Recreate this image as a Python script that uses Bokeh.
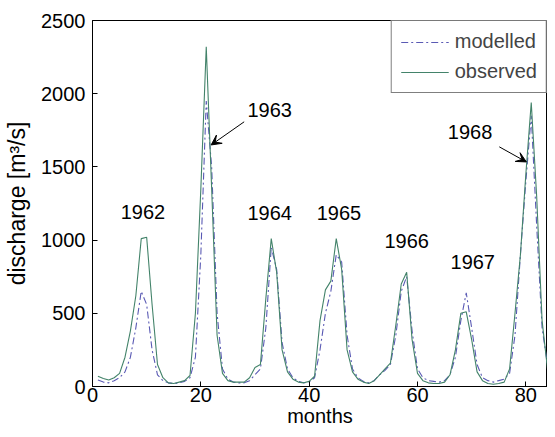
from bokeh.plotting import figure
from bokeh.models import Range1d, Arrow, VeeHead, Legend, LegendItem, FixedTicker
from bokeh.core.properties import value
from bokeh.embed import file_html
from bokeh.resources import INLINE

months = list(range(1, 85))
observed = [70, 55, 45, 60, 90, 200, 380, 620, 1010, 1020, 560, 150,
            60, 25, 20, 30, 40, 75, 500, 1350, 2320, 1350, 350, 90,
            40, 30, 30, 30, 60, 130, 150, 600, 1010, 780, 250, 100,
            50, 30, 25, 35, 70, 450, 660, 720, 1010, 800, 250, 100,
            50, 30, 20, 40, 80, 120, 160, 420, 700, 780, 320, 90,
            40, 25, 20, 20, 30, 80, 250, 500, 510, 320, 100, 40,
            20, 15, 20, 30, 120, 500, 900, 1450, 1940, 1300, 450, 120]
modelled = [45, 30, 25, 40, 60, 100, 200, 400, 650, 560, 250, 80,
            40, 25, 20, 25, 35, 60, 200, 900, 1950, 1500, 500, 120,
            50, 30, 25, 25, 40, 80, 120, 400, 950, 800, 300, 120,
            60, 35, 25, 30, 60, 250, 500, 650, 900, 850, 350, 120,
            60, 35, 25, 40, 80, 110, 150, 350, 650, 750, 380, 120,
            60, 40, 35, 30, 40, 80, 200, 450, 640, 400, 150, 60,
            40, 30, 40, 50, 90, 350, 900, 1400, 1850, 1100, 400, 150]

year_labels = ["1962", "1963", "1964", "1965", "1966", "1967", "1968"]
year_x = [9.3, 32.7, 32.7, 45.5, 58.0, 70.2, 69.7]
year_y = [1190, 1890, 1185, 1185, 993, 850, 1740]

x_ticks = [0, 20, 40, 60, 80]
y_ticks = [0, 500, 1000, 1500, 2000, 2500]

FONT = "Liberation Sans"

p = figure(width=547, height=429, output_backend="svg", toolbar_location=None,
           x_range=Range1d(0, 84), y_range=Range1d(0, 2500),
           min_border_left=92, min_border_right=0, min_border_top=20, min_border_bottom=40)
p.xgrid.visible = False
p.ygrid.visible = False
p.outline_line_color = "black"
p.outline_line_width = 1
p.background_fill_color = "white"
p.border_fill_color = "white"

for ax in [p.xaxis[0], p.yaxis[0]]:
    ax.major_tick_in = 5
    ax.major_tick_out = 0
    ax.minor_tick_in = 0
    ax.minor_tick_out = 0
    ax.axis_line_color = "black"
    ax.major_tick_line_color = "black"
    ax.major_label_text_font = FONT
    ax.major_label_text_font_size = "20px"
    ax.major_label_text_color = "black"
    ax.axis_label_text_font = FONT
    ax.axis_label_text_font_style = "normal"
    ax.axis_label_text_color = "black"

p.xaxis[0].ticker = FixedTicker(ticks=x_ticks)
p.yaxis[0].ticker = FixedTicker(ticks=y_ticks)
p.xaxis[0].axis_label = "months"
p.yaxis[0].axis_label = "discharge [m³/s]"
p.xaxis[0].axis_label_text_font_size = "20px"
p.yaxis[0].axis_label_text_font_size = "23px"
p.xaxis[0].major_label_standoff = 1
p.yaxis[0].major_label_standoff = 7
p.xaxis[0].axis_label_standoff = 0
p.yaxis[0].axis_label_standoff = 8

l_mod = p.line(months, modelled, line_color="#5a5ab4", line_width=1.1, line_dash="7 3 2 3")
l_obs = p.line(months, observed, line_color="#43836a", line_width=1.1)

p.text(x=year_x, y=year_y, text=year_labels, text_font=value(FONT), text_font_size="20px",
       text_align="center", text_baseline="middle", text_color="black")

p.add_layout(Arrow(end=VeeHead(size=10, fill_color="black", line_color="black"),
                   x_start=28.0, y_start=1808, x_end=21.9, y_end=1650,
                   line_color="black", line_width=1))
p.add_layout(Arrow(end=VeeHead(size=10, fill_color="black", line_color="black"),
                   x_start=75.1, y_start=1637, x_end=80.1, y_end=1534,
                   line_color="black", line_width=1))

legend = Legend(items=[LegendItem(label="modelled", renderers=[l_mod]),
                       LegendItem(label="observed", renderers=[l_obs])],
                location="top_right")
legend.label_text_font = FONT
legend.label_text_font_size = "20px"
legend.glyph_width = 48
legend.border_line_color = "black"
legend.border_line_width = 1
legend.margin = 0
legend.padding = 9
legend.spacing = 7
legend.label_standoff = 6
p.add_layout(legend)

open("out.html", "w").write(file_html(p, INLINE))
